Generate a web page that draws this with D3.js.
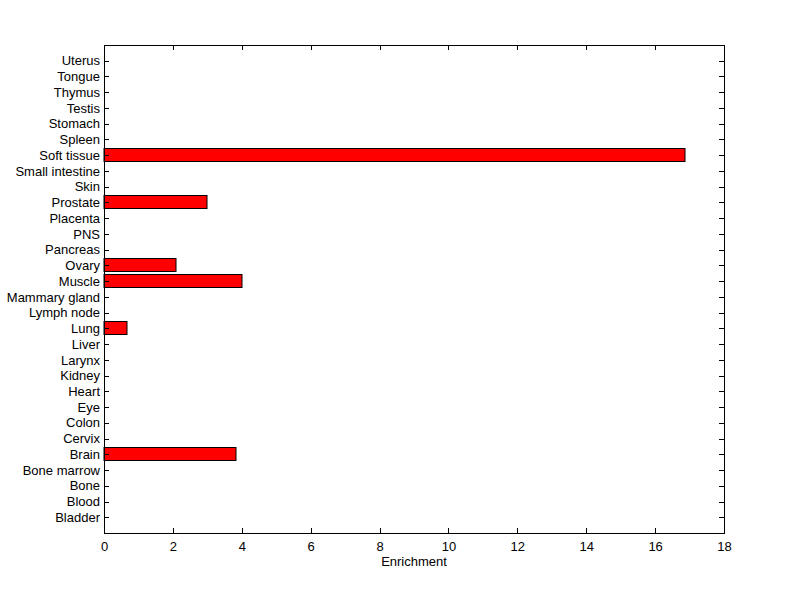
<!DOCTYPE html>
<html>
<head>
  <meta charset='utf-8'>
  <title>Enrichment</title>
  <script src="https://cdn.jsdelivr.net/npm/d3@7"></script>
  <style>
    body { margin: 0; background: #fff; }
    svg text { font-family: "Liberation Sans", Arial, sans-serif; font-size: 13px; fill: #000; }
  </style>
</head>
<body>
  <svg width="800" height="599" id="chart"></svg>
  <script>
    // categories bottom to top
    const tissues = ["Bladder", "Blood", "Bone", "Bone marrow", "Brain", "Cervix", "Colon", "Eye",
      "Heart", "Kidney", "Larynx", "Liver", "Lung", "Lymph node", "Mammary gland", "Muscle",
      "Ovary", "Pancreas", "PNS", "Placenta", "Prostate", "Skin", "Small intestine",
      "Soft tissue", "Spleen", "Stomach", "Testis", "Thymus", "Tongue", "Uterus"];
    const enrichment = [0, 0, 0, 0, 3.84, 0, 0, 0, 0, 0, 0, 0, 0.68, 0, 0, 4.02,
      2.10, 0, 0, 0, 3.00, 0, 0, 16.88, 0, 0, 0, 0, 0, 0];
    const xTicks = [0, 2, 4, 6, 8, 10, 12, 14, 16, 18];

    const data = tissues.map((t, i) => ({ name: t, pos: i + 1, value: enrichment[i] }));

    const plotL = 104, plotR = 724, plotT = 45, plotB = 533;
    const tickLen = 5;
    const fontSize = '13px';
    const svg = d3.select('#chart');

    const x = d3.scaleLinear().domain([0, 18]).range([plotL, plotR]);
    const y = d3.scaleLinear().domain([0, tissues.length + 1]).range([plotB, plotT]);
    const barH = (y(0) - y(0.8));

    // bars
    svg.selectAll('.bar')
      .data(data.filter(d => d.value > 0))
      .join('rect')
      .attr('class', 'bar')
      .attr('x', x(0))
      .attr('y', d => Math.round(y(d.pos) - barH / 2) - 0.5)
      .attr('width', d => Math.round(x(d.value) - x(0)))
      .attr('height', Math.round(barH))
      .style('fill', '#ff0000')
      .style('stroke', '#000')
      .style('stroke-width', 1);

    // axes (MATLAB style: ticks inward, box around)
    svg.append('g')
      .attr('transform', `translate(0,${plotB})`)
      .call(d3.axisBottom(x).tickValues(xTicks).tickSizeInner(-tickLen).tickSizeOuter(0).tickPadding(9))
      .call(g => g.select('.domain').remove());

    svg.append('g')
      .attr('transform', `translate(0,${plotT})`)
      .call(d3.axisTop(x).tickValues(xTicks).tickSizeInner(-tickLen).tickSizeOuter(0).tickFormat(''))
      .call(g => g.select('.domain').remove());

    svg.append('g')
      .attr('transform', `translate(${plotL},0)`)
      .call(d3.axisLeft(y).tickValues(data.map(d => d.pos)).tickFormat((d, i) => tissues[i])
        .tickSizeInner(-tickLen).tickSizeOuter(0).tickPadding(4))
      .call(g => g.select('.domain').remove());

    svg.append('g')
      .attr('transform', `translate(${plotR},0)`)
      .call(d3.axisRight(y).tickValues(data.map(d => d.pos)).tickFormat('')
        .tickSizeInner(-tickLen).tickSizeOuter(0))
      .call(g => g.select('.domain').remove());

    svg.selectAll('.tick line').style('stroke', '#000').attr('shape-rendering', 'crispEdges');
    svg.selectAll('.tick text').style('font-size', fontSize).style('font-family', '"Liberation Sans", Arial, sans-serif');

    svg.append('rect')
      .attr('x', plotL).attr('y', plotT)
      .attr('width', plotR - plotL).attr('height', plotB - plotT)
      .style('fill', 'none').style('stroke', '#000').style('stroke-width', 1)
      .attr('shape-rendering', 'crispEdges');

    svg.append('text')
      .attr('x', (plotL + plotR) / 2)
      .attr('y', 566)
      .attr('text-anchor', 'middle')
      .text('Enrichment');
  </script>
</body>
</html>
